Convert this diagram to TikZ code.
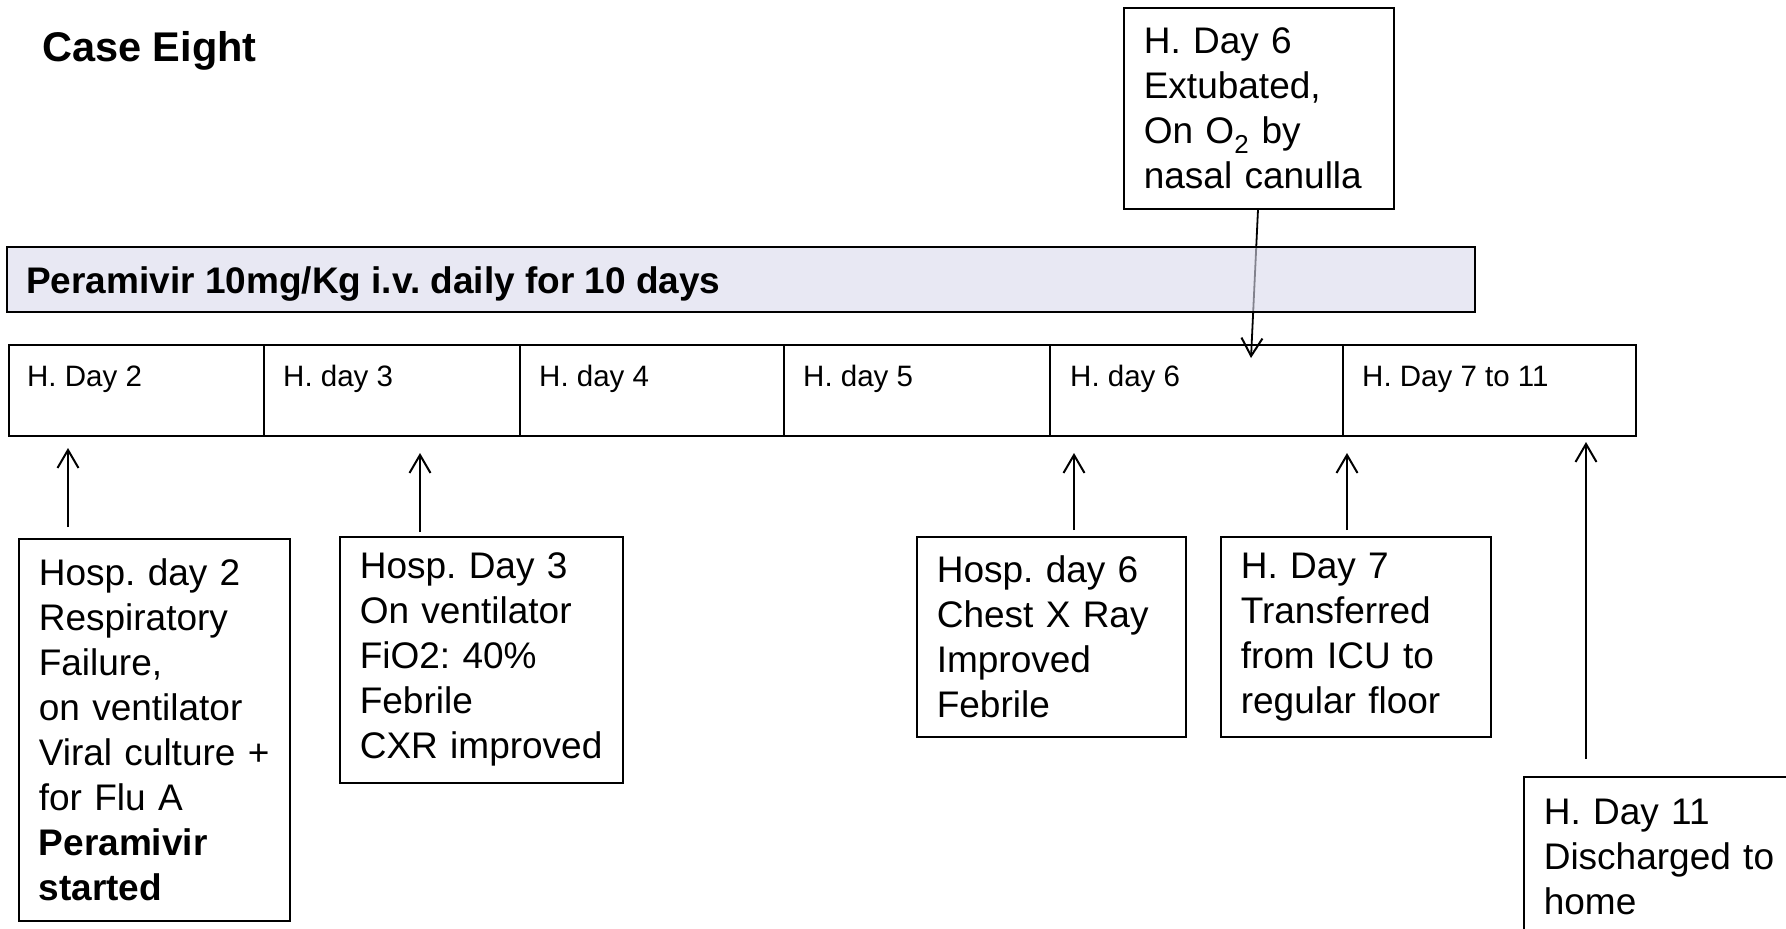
\documentclass[tikz,border=0pt]{standalone}
\usepackage{fontspec}
\setmainfont{Liberation Sans}
\usetikzlibrary{arrows.meta,calc}
\definecolor{barfill}{RGB}{217,217,235}
\frenchspacing
\begin{document}
\begin{tikzpicture}[x=1pt,y=-1pt,
  evbox/.style={draw, line width=1.6pt, anchor=north west, inner xsep=20pt, inner ysep=0pt, align=left, font=\fontsize{37}{45}\selectfont\frenchspacing},
  cell/.style={draw, line width=2.2pt, anchor=north west, minimum height=91pt, inner sep=0pt, outer sep=0pt},
  celltext/.style={anchor=base west, inner sep=0pt, font=\fontsize{29.5}{34}\selectfont\frenchspacing},
  arr/.style={line width=1.8pt, -{Straight Barb[length=18pt,width=21pt,line width=2pt]}}
]
\useasboundingbox (0,0) rectangle (1786,929);

% title
\node[anchor=base west, inner sep=0pt, font=\fontsize{41.5}{48}\selectfont\bfseries] (title) at (42,61) {Case Eight};

% top event box and its arrow
\node[evbox, minimum width=270pt, minimum height=201pt, text width=230pt] (top) at (1123,7)
  {H. Day 6\\Extubated,\\On O\textsubscript{2} by\\nasal canulla};
\coordinate (t0) at (1251,358);
\draw[arr] ($(top.south west)+(135,0)$) -- (t0);

% peramivir bar
\node[draw, line width=2pt, fill=barfill, fill opacity=0.6, anchor=north west, minimum width=1468pt, minimum height=65pt, inner sep=0pt, outer sep=0pt] (bar) at (7,247) {};
\node[anchor=base west, inner sep=0pt, font=\fontsize{37}{44}\selectfont\bfseries\frenchspacing] (bartext) at (26,293) {Peramivir 10mg/Kg i.v. daily for 10 days};

% timeline cells
\node[cell, minimum width=255pt] (c1) at (9,345) {};
\node[cell, minimum width=256pt] (c2) at (264,345) {};
\node[cell, minimum width=264pt] (c3) at (520,345) {};
\node[cell, minimum width=266pt] (c4) at (784,345) {};
\node[cell, minimum width=293pt] (c5) at (1050,345) {};
\node[cell, minimum width=293pt] (c6) at (1343,345) {};
\node[celltext] (l1) at (27,386) {H. Day 2};
\node[celltext] (l2) at (283,386) {H. day 3};
\node[celltext] (l3) at (539,386) {H. day 4};
\node[celltext] (l4) at (803,386) {H. day 5};
\node[celltext] (l5) at (1070,386) {H. day 6};
\node[celltext] (l6) at (1362,386) {H. Day 7 to 11};

% lower event boxes
\node[evbox, minimum width=271pt, minimum height=382pt, text width=231pt] (b1) at (18,538)
  {Hosp. day 2\\Respiratory\\Failure,\\on ventilator\\Viral culture +\\for Flu A\\\textbf{Peramivir}\\\textbf{started}};
\node[evbox, minimum width=283pt, minimum height=246pt, text width=243pt] (b2) at (339,536)
  {Hosp. Day 3\\On ventilator\\FiO2: 40\%\\Febrile\\CXR improved};
\node[evbox, minimum width=269pt, minimum height=200pt, text width=229pt] (b3) at (916,536)
  {Hosp. day 6\\Chest X Ray\\Improved\\Febrile};
\node[evbox, minimum width=270pt, minimum height=200pt, text width=230pt] (b4) at (1220,536)
  {H. Day 7\\Transferred\\from ICU to\\regular floor};
\node[evbox, minimum width=290pt, minimum height=160pt, text width=250pt] (b5) at (1523,776)
  {H. Day 11\\Discharged to\\home};

% arrows
\coordinate (t1) at (68,448);
\coordinate (t2) at (420,453);
\coordinate (t3) at (1074,453);
\coordinate (t4) at (1347,453);
\coordinate (t5) at (1586,442);
\draw[arr, shorten <=11pt] (b1.north -| t1) -- (t1);
\draw[arr, shorten <=4pt] (b2.north -| t2) -- (t2);
\draw[arr, shorten <=6pt] (b3.north -| t3) -- (t3);
\draw[arr, shorten <=6pt] (b4.north -| t4) -- (t4);
\draw[arr, shorten <=17pt] (b5.north -| t5) -- (t5);
\end{tikzpicture}
\end{document}
